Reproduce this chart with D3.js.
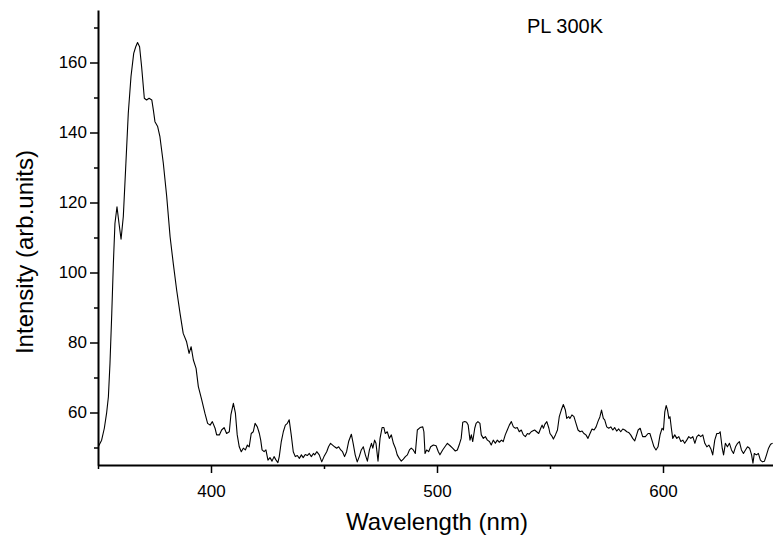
<!DOCTYPE html>
<html>
<head>
<meta charset="utf-8">
<script src="https://cdn.jsdelivr.net/npm/d3@7"></script>
<style>
  body { margin: 0; background: #fff; }
  svg { display: block; font-family: "Liberation Sans", Arial, sans-serif; }
</style>
</head>
<body>
<script>
// Spectrum
const wavelength = [
  350.1, 351.6, 352.8, 353.8, 354.6, 355.3, 356.1, 356.8, 357.5, 358.4, 359.3, 360.2, 361.2, 362.2, 363.4,
  364.6, 365.8, 366.7, 367.5, 368.4, 369.3, 370.5, 371.5, 372.6, 373.8, 374.5, 375.2, 376.4, 377.4, 378.9,
  380.4, 381.9, 383.3, 384.8, 386.3, 387.7, 389.2, 390.3, 391.2, 392.2, 393.4, 394.4, 395.9, 397.3, 398.5,
  399.6, 400.6, 401.8, 402.5, 403.7, 404.7, 405.8, 406.9, 408.1, 408.8, 409.9, 410.8, 411.6, 412.5, 413.4,
  414.3, 415.2, 416.1, 416.9, 417.8, 418.7, 419.5, 420.5, 421.4, 422.0, 422.6, 423.5, 424.3, 425.2, 426.1,
  427.0, 427.9, 428.8, 429.6, 430.2, 431.1, 432.0, 432.9, 433.8, 434.6, 435.5, 436.4, 437.3, 438.2, 439.1,
  440.0, 440.8, 441.7, 442.6, 443.5, 444.4, 445.3, 445.9, 446.8, 447.9, 449.0, 450.0, 451.2, 452.0, 452.9,
  453.8, 454.7, 455.6, 456.5, 457.4, 458.2, 459.1, 460.0, 460.9, 462.1, 462.9, 463.8, 464.7, 465.6, 466.5,
  467.4, 468.3, 469.2, 470.1, 471.0, 471.6, 472.4, 473.0, 473.9, 474.8, 475.7, 476.5, 477.1, 478.0, 478.9,
  479.8, 480.7, 481.6, 482.4, 483.3, 484.2, 485.1, 486.0, 486.9, 487.8, 488.6, 489.5, 490.4, 491.3, 492.5,
  493.7, 494.2, 494.7, 495.4, 496.3, 497.2, 498.4, 499.6, 500.6, 501.3, 502.5, 503.5, 504.6, 505.8, 506.9,
  508.1, 509.0, 509.8, 510.7, 511.4, 512.3, 513.1, 513.8, 514.6, 515.2, 515.8, 516.7, 517.3, 518.1, 519.0,
  519.6, 520.5, 521.4, 522.3, 523.2, 524.0, 524.9, 525.8, 526.7, 527.6, 528.5, 529.3, 530.2, 531.1, 532.0,
  532.9, 533.8, 534.7, 535.5, 536.4, 537.3, 538.2, 539.1, 540.0, 540.8, 541.7, 542.3, 543.2, 544.1, 545.0,
  545.9, 546.5, 547.1, 547.7, 548.6, 549.5, 550.0, 551.0, 551.5, 552.4, 553.3, 554.1, 555.0, 555.9, 556.8,
  557.4, 558.3, 558.8, 559.7, 560.6, 561.5, 562.4, 563.3, 564.2, 565.0, 565.9, 566.8, 567.7, 568.6, 569.5,
  570.4, 571.2, 572.1, 572.8, 573.6, 574.2, 575.1, 576.0, 576.9, 577.8, 578.6, 579.5, 580.4, 581.3, 582.2,
  583.1, 584.0, 584.8, 585.7, 586.6, 587.5, 588.1, 589.0, 589.9, 591.0, 592.2, 593.4, 594.2, 595.1, 596.0,
  596.9, 597.8, 598.7, 599.6, 600.2, 600.8, 601.4, 602.0, 602.6, 603.1, 603.7, 604.3, 605.2, 606.1, 607.0,
  607.9, 608.8, 609.6, 610.5, 611.4, 612.3, 613.2, 614.1, 615.0, 615.8, 616.7, 617.6, 618.5, 619.4, 620.3,
  621.2, 622.0, 622.9, 623.8, 624.7, 625.3, 626.2, 626.8, 627.6, 628.5, 629.4, 630.3, 631.2, 632.1, 633.0,
  633.8, 634.7, 635.6, 636.5, 637.4, 638.3, 639.2, 639.8, 640.4, 641.3, 642.2, 643.1, 644.0, 644.9, 645.8,
  646.7, 647.6, 648.5
];
const intensity = [
  50.2, 52.1, 55.5, 59.8, 64.5, 74.0, 88.4, 102.6, 114.0, 118.8, 114.0, 109.5, 116.0, 129.3, 145.5,
  156.0, 162.6, 164.5, 165.7, 164.5, 158.8, 149.8, 149.3, 149.8, 149.3, 146.4, 143.1, 141.7, 138.8, 131.2,
  121.7, 110.2, 102.6, 95.0, 88.3, 82.6, 80.2, 76.9, 78.8, 75.0, 72.6, 67.4, 63.6, 59.8, 56.9,
  56.4, 57.4, 55.5, 53.6, 53.6, 55.0, 55.7, 54.0, 54.5, 59.3, 62.6, 59.8, 53.6, 50.2, 48.8,
  49.8, 49.3, 50.7, 50.2, 54.0, 54.5, 56.9, 55.9, 54.0, 52.1, 49.3, 48.8, 49.3, 46.4, 47.1,
  46.1, 47.4, 46.4, 45.7, 47.4, 51.7, 54.5, 56.4, 56.9, 57.9, 53.6, 48.8, 47.4, 47.7, 46.9,
  47.9, 47.1, 48.0, 47.7, 48.3, 47.4, 48.3, 47.9, 48.8, 47.9, 45.9, 47.4, 48.8, 50.2, 51.2,
  50.7, 50.2, 49.8, 50.2, 49.3, 48.8, 47.4, 48.8, 51.7, 53.8, 51.2, 47.9, 45.9, 47.4, 49.3,
  50.2, 47.9, 46.1, 49.3, 51.2, 49.8, 52.1, 51.2, 46.1, 52.6, 55.7, 55.7, 54.0, 54.5, 52.6,
  53.6, 51.2, 49.8, 47.9, 46.9, 46.1, 46.7, 47.4, 47.9, 49.3, 49.8, 49.3, 48.3, 55.0, 55.7,
  55.9, 54.5, 48.3, 49.3, 48.8, 50.2, 50.7, 50.5, 48.8, 47.9, 49.3, 50.2, 51.2, 50.5, 49.8,
  49.0, 49.3, 50.7, 52.6, 57.2, 57.4, 57.2, 56.4, 52.1, 53.6, 51.7, 55.5, 56.9, 57.4, 56.9,
  53.6, 52.6, 53.1, 52.1, 51.7, 50.7, 52.1, 51.2, 52.1, 51.5, 52.1, 51.7, 53.6, 55.0, 56.4,
  57.4, 55.9, 55.5, 55.7, 54.5, 55.0, 53.6, 53.1, 54.0, 53.8, 54.5, 54.7, 55.0, 54.5, 54.0,
  55.5, 56.4, 55.5, 56.6, 57.4, 55.5, 54.0, 53.1, 52.4, 53.6, 55.0, 58.8, 60.7, 62.3, 60.7,
  58.3, 58.8, 58.3, 59.3, 58.8, 56.9, 55.0, 54.5, 54.7, 54.0, 53.6, 52.6, 54.0, 55.3, 55.0,
  55.9, 57.4, 58.8, 60.7, 58.3, 57.9, 55.9, 55.5, 55.9, 55.0, 55.7, 54.7, 55.3, 54.5, 55.3,
  55.0, 54.5, 54.3, 53.6, 52.6, 51.9, 53.1, 55.0, 55.5, 53.1, 53.1, 54.0, 54.0, 52.1, 50.2,
  49.3, 50.2, 53.6, 55.5, 55.0, 60.2, 62.0, 60.7, 58.3, 58.8, 55.5, 52.6, 53.6, 52.6, 53.1,
  51.7, 52.1, 51.2, 52.1, 53.1, 52.6, 53.1, 51.2, 53.1, 53.6, 53.1, 53.6, 51.2, 50.2, 50.7,
  49.6, 47.9, 52.1, 54.0, 54.0, 54.5, 49.8, 47.9, 51.2, 50.2, 51.2, 49.3, 48.3, 50.2, 51.2,
  51.7, 49.3, 48.3, 49.3, 50.2, 49.8, 47.9, 45.5, 48.3, 47.9, 48.3, 46.4, 45.9, 46.1, 47.9,
  49.8, 50.9, 51.2
];

const xMajorTicks = [400, 500, 600];
const xMinorTicks = [350, 450, 550, 650];
const yMajorTicks = [60, 80, 100, 120, 140, 160];
const yMinorTicks = [50, 70, 90, 110, 130, 150, 170];

const data = wavelength.map((w, i) => ({ x: w, y: intensity[i] }));

const W = 773, H = 545;
const plot = { left: 98, right: 776, top: 10, bottom: 465 };

const svg = d3.select("body").append("svg")
    .attr("width", W)
    .attr("height", H);

const x = d3.scaleLinear().domain([350, 650]).range([plot.left, plot.right]);
const y = d3.scaleLinear().domain([45, 175]).range([plot.bottom, plot.top]);

svg.append("defs").append("clipPath").attr("id", "clip")
  .append("rect")
    .attr("x", plot.left).attr("y", plot.top)
    .attr("width", plot.right - plot.left)
    .attr("height", plot.bottom - plot.top);

// the spectrum
const line = d3.line().x(d => x(d.x)).y(d => y(d.y));
svg.append("path")
    .datum(data)
    .attr("clip-path", "url(#clip)")
    .attr("fill", "none")
    .attr("stroke", "#000")
    .attr("stroke-width", 1.1)
    .attr("stroke-linejoin", "round")
    .attr("d", line);

// minor ticks first (no labels)
svg.append("g")
    .attr("transform", `translate(0,${plot.bottom})`)
    .call(d3.axisBottom(x).tickValues(xMinorTicks).tickSize(4).tickSizeOuter(0).tickFormat(""))
    .call(g => g.select(".domain").remove());
svg.append("g")
    .attr("transform", `translate(${plot.left},0)`)
    .call(d3.axisLeft(y).tickValues(yMinorTicks).tickSize(4).tickSizeOuter(0).tickFormat(""))
    .call(g => g.select(".domain").remove());

// major axes
svg.append("g")
    .attr("transform", `translate(0,${plot.bottom})`)
    .call(d3.axisBottom(x).tickValues(xMajorTicks).tickSize(8).tickSizeOuter(0).tickPadding(12));
svg.append("g")
    .attr("transform", `translate(${plot.left},0)`)
    .call(d3.axisLeft(y).tickValues(yMajorTicks).tickSize(8).tickSizeOuter(0).tickPadding(3));

svg.selectAll(".tick line").attr("stroke", "#000").attr("stroke-width", 1.5);
svg.selectAll(".domain").attr("stroke", "#000").attr("stroke-width", 2);
svg.selectAll(".tick text")
    .attr("fill", "#000")
    .style("font-family", "'Liberation Sans', Arial, sans-serif")
    .style("font-size", "17px");

// axis titles
svg.append("text")
    .attr("x", (plot.left + plot.right) / 2)
    .attr("y", 530)
    .attr("text-anchor", "middle")
    .style("font-size", "24px")
    .text("Wavelength (nm)");

svg.append("text")
    .attr("transform", `translate(33,252) rotate(-90)`)
    .attr("text-anchor", "middle")
    .style("font-size", "24px")
    .text("Intensity (arb.units)");

svg.append("text")
    .attr("x", 527)
    .attr("y", 33)
    .style("font-size", "20px")
    .text("PL 300K");
</script>
</body>
</html>
